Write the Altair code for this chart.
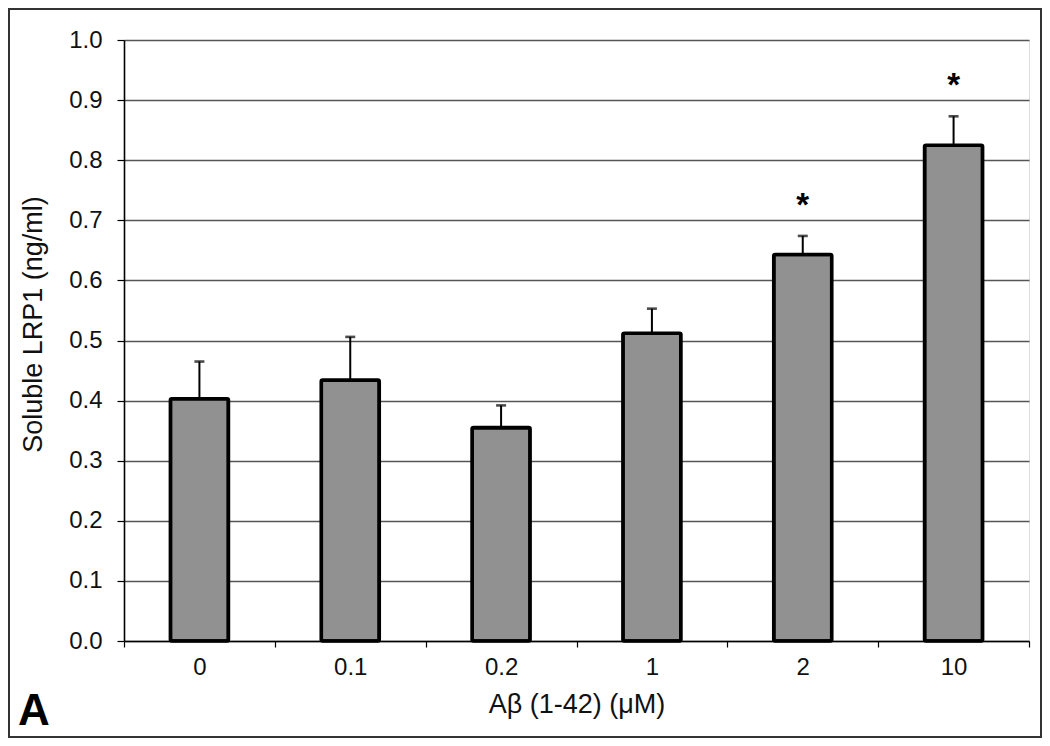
import altair as alt
import pandas as pd

# ---- data ----
doses = ["0", "0.1", "0.2", "1", "2", "10"]
means = [0.403, 0.434, 0.355, 0.512, 0.643, 0.825]
errors = [0.062, 0.072, 0.037, 0.041, 0.031, 0.048]
signif = ["", "", "", "", "*", "*"]
y_ticks = [0.0, 0.1, 0.2, 0.3, 0.4, 0.5, 0.6, 0.7, 0.8, 0.9, 1.0]
y_title = "Soluble LRP1 (ng/ml)"
x_title = "Aβ (1-42) (μM)"
panel_label = ["A"]

df = pd.DataFrame({
    "dose": doses,
    "mean": means,
    "err": errors,
    "sig": signif,
})
df["top"] = df["mean"] + df["err"]

FONT = "Liberation Sans"
W, H = 905, 601

x_enc = alt.X("dose:N", sort=doses, title=x_title,
              scale=alt.Scale(paddingInner=0, paddingOuter=0),
              axis=alt.Axis(labelAngle=0, tickBand="extent", tickSize=6,
                            tickColor="#000", tickWidth=1.2,
                            domainColor="#000", domainWidth=1.6,
                            labelFontSize=24, labelPadding=8,
                            labelColor="#111", labelFont=FONT,
                            titleFontSize=27, titleFont=FONT,
                            titleFontWeight="normal", titlePadding=12,
                            titleColor="#111"))

y_scale = alt.Scale(domain=[0, 1], nice=False)
y_axis = alt.Axis(values=y_ticks, format=".1f", tickSize=7, tickColor="#000",
                  tickWidth=1.2, domainColor="#000", domainWidth=1.6,
                  grid=True, gridColor="#555", gridWidth=1.3,
                  labelFontSize=24, labelPadding=15, labelColor="#111",
                  labelFont=FONT, titleFontSize=27, titleFont=FONT,
                  titleFontWeight="normal", titlePadding=21, titleY=284,
                  titleColor="#111")

base = alt.Chart(df)

bars = base.mark_bar(size=58, fill="#919191", stroke="#000",
                     strokeWidth=3.6, cornerRadius=1.5).encode(
    x=x_enc,
    y=alt.Y("mean:Q", scale=y_scale, axis=y_axis, title=y_title),
)

err_rule = base.mark_rule(color="#000", strokeWidth=2).encode(
    x=alt.X("dose:N", sort=doses),
    y=alt.Y("mean:Q"),
    y2="top:Q",
)

err_cap = base.mark_tick(color="#000", size=10, thickness=2.6).encode(
    x=alt.X("dose:N", sort=doses),
    y=alt.Y("top:Q"),
)

stars = base.mark_text(font=FONT, fontSize=33, fontWeight="bold",
                       baseline="middle", dy=-30, color="#000").encode(
    x=alt.X("dose:N", sort=doses),
    y=alt.Y("top:Q"),
    text="sig:N",
)

label = alt.Chart(pd.DataFrame({"t": panel_label})).mark_text(
    font=FONT, fontSize=44, fontWeight="bold", align="left",
    baseline="alphabetic", color="#000"
).encode(x=alt.value(-106), y=alt.value(685), text="t:N")

frame = alt.Chart(pd.DataFrame({"t": panel_label})).mark_rect(
    fill=None, stroke="#333", strokeWidth=2
).encode(x=alt.value(-115), x2=alt.value(W + 12),
         y=alt.value(-31), y2=alt.value(H + 96))

chart = alt.layer(bars, err_rule, err_cap, stars, label, frame).properties(
    width=W, height=H,
    autosize=alt.AutoSizeParams(type="none"),
    padding={"left": 116, "top": 32, "right": 13, "bottom": 97},
).configure_view(stroke="#666", strokeWidth=1.3).configure(background="white")

chart.save("out.html", embed_options={"renderer": "svg", "actions": False})
